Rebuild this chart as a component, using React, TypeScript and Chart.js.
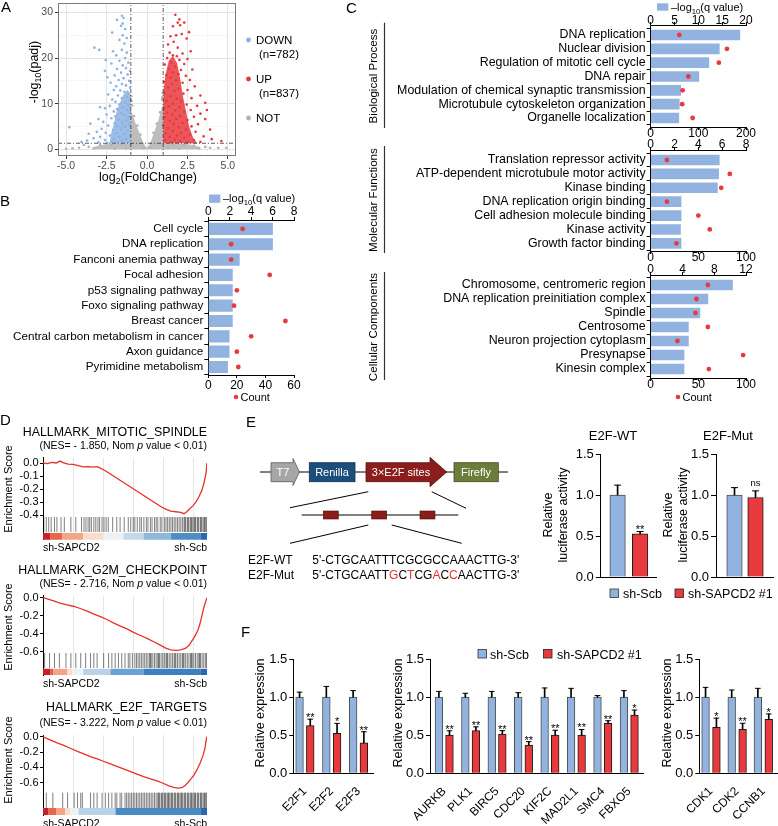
import React, { useEffect, useRef } from 'react';
import { Chart, registerables } from 'chart.js';

Chart.register(...registerables);

const FONT = '"Liberation Sans", Arial, Helvetica, sans-serif';
Chart.defaults.font.family = FONT;
Chart.defaults.color = '#000';

// ================= DATA =================
// ---- A: volcano plot (log2FC, -log10 padj) ----
const volcanoDown = [
  -1.55, 29.3, -1.45, 28.8, -1.85, 28.4, -1.5, 27.6, -1.6, 27.1, -2.15, 25.6, -1.35, 26.4, -1.5, 25.0, -1.25, 24.4,
  -1.7, 24.0, -1.4, 23.2, -3.25, 22.3, -2.95, 21.8, -2.1, 21.5, -1.55, 21.8, -1.25, 21.2, -1.9, 20.6, -2.55, 19.6,
  -1.35, 20.0, -1.7, 19.4, -2.2, 18.8, -1.15, 19.0, -1.5, 18.4, -2.6, 17.2, -1.85, 17.6, -1.3, 17.8, -1.05, 17.2,
  -1.6, 16.8, -2.0, 16.2, -1.2, 16.4, -2.45, 15.8, -1.45, 15.6, -1.75, 15.2, -1.1, 15.0, -2.25, 14.6, -1.55, 14.3,
  -1.3, 14.0, -1.9, 13.8, -1.05, 13.5, -2.05, 13.0, -1.65, 12.9, -1.4, 12.6, -1.15, 12.2, -2.4, 12.0, -1.8, 11.8,
  -1.25, 11.5, -1.55, 11.2, -2.15, 10.9, -1.05, 10.8, -1.95, 10.4, -1.35, 10.2, -2.6, 9.0, -2.9, 9.2, -1.7, 9.8,
  -1.15, 9.6, -2.3, 9.5, -1.5, 9.2, -1.85, 8.8, -1.25, 8.6, -2.05, 8.3, -1.05, 8.2, -1.6, 7.9, -2.5, 7.6, -1.4, 7.5,
  -1.95, 7.2, -1.15, 7.0, -3.0, 6.6, -2.2, 6.8, -1.75, 6.5, -1.3, 6.3, -2.7, 6.0, -1.55, 5.9, -3.5, 5.6, -2.0, 5.7,
  -1.1, 5.5, -2.4, 5.2, -1.85, 5.0, -1.35, 4.9, -4.8, 4.8, -2.8, 4.5, -1.6, 4.4, -2.1, 4.2, -1.2, 4.1, -3.1, 3.8,
  -2.55, 3.6, -3.6, 3.4, -1.9, 3.5, -1.4, 3.3, -2.3, 3.0, -1.05, 3.0, -2.9, 2.7, -1.7, 2.7, -3.3, 2.4, -2.05, 2.3,
  -1.3, 2.2, -2.6, 2.0, -3.7, 1.9, -1.55, 1.9, -4.05, 1.6, -2.2, 1.7, -1.15, 1.6, -3.0, 1.5, -1.85, 1.45, -2.45, 1.4,
];
const volcanoUp = [
  1.75, 29.5, 2.0, 28.5, 1.9, 27.8, 2.3, 27.8, 2.05, 27.2, 1.6, 27.0, 2.6, 25.7, 1.8, 25.0, 2.15, 25.3, 1.45, 24.8,
  2.45, 24.3, 1.65, 23.6, 1.3, 23.0, 1.9, 22.3, 2.7, 21.5, 1.4, 21.2, 2.2, 21.0, 1.6, 20.6, 1.85, 20.4, 2.5, 19.8,
  1.25, 20.0, 2.0, 19.6, 1.5, 19.0, 2.3, 18.7, 1.1, 18.6, 1.75, 18.2, 2.8, 17.5, 1.35, 17.6, 2.1, 17.4, 1.6, 16.9,
  1.95, 16.5, 1.2, 16.2, 2.4, 16.1, 1.45, 15.7, 2.65, 15.2, 1.8, 15.1, 1.05, 14.8, 2.2, 14.6, 1.55, 14.3, 2.95, 13.8,
  1.3, 13.6, 1.95, 13.3, 2.5, 13.0, 1.7, 12.8, 1.1, 12.3, 2.25, 12.2, 3.3, 11.8, 1.45, 11.6, 2.75, 11.2, 1.85, 11.1,
  1.2, 10.7, 2.1, 10.6, 3.6, 10.2, 1.6, 10.0, 2.45, 9.8, 3.1, 9.5, 1.35, 9.4, 2.0, 9.2, 1.05, 9.0, 3.7, 8.6, 2.7, 8.6,
  1.75, 8.5, 2.3, 8.2, 1.25, 8.0, 3.3, 7.8, 1.55, 7.6, 2.05, 7.3, 2.9, 7.1, 1.1, 7.0, 3.6, 6.6, 1.8, 6.6, 2.5, 6.4,
  1.4, 6.2, 2.2, 5.8, 3.15, 5.5, 1.65, 5.5, 1.0, 5.3, 2.75, 5.0, 1.95, 4.8, 1.3, 4.6, 3.9, 4.3, 2.4, 4.3, 1.6, 4.0,
  3.0, 3.8, 2.1, 3.6, 1.15, 3.5, 2.65, 3.2, 1.85, 3.0, 3.5, 2.8, 1.4, 2.7, 2.3, 2.5, 4.0, 2.2, 1.7, 2.1, 2.9, 2.0,
  1.1, 1.9, 2.05, 1.8, 3.3, 1.6, 4.6, 1.8, 1.5, 1.5, 2.5, 1.5,
];
const volcanoNot = [
  -0.95, 10.6, -0.98, 11.6, -0.92, 9.6, 0.96, 11.4, 0.98, 12.3, 0.93, 10.9, -0.8, 7.3, -0.6, 5.2, -0.4, 3.2, 0.4, 3.6,
  0.6, 5.6, 0.8, 8.1, -3.6, 0.5, -4.2, 0.3, -4.6, 0.2, -3.9, 0.9, -2.9, 0.9, -2.2, 1.0, -1.6, 1.1, 1.6, 1.1, 2.3, 1.0,
  2.9, 0.8, 3.6, 0.5, 3.9, 0.3, 4.4, 0.3, 4.9, 0.3, -5.0, 0.1, -3.3, 0.2, 3.2, 0.2, 2.0, 0.1, -2.0, 0.1, -1.3, 0.2,
  1.3, 0.3, -0.2, 0.2, 0.2, 0.3,
];
// outlines of the densely packed point clouds
const notCloud = [-3.3, 0, -3.3, 0.5, -2.6, 1.1, -1.0, 1.3, -1.0, 8.5, -0.85, 7.2, -0.7, 5.6, -0.5, 3.8, -0.3, 2.0, -0.15, 0.9,
  0, 0.35, 0.15, 1.0, 0.3, 2.3, 0.5, 4.3, 0.7, 6.3, 0.85, 8.2, 1.0, 10.2, 1.0, 1.3, 2.6, 1.1, 3.3, 0.5, 3.3, 0];
const downCloud = [-1.0, 1.3, -2.3, 1.3, -2.25, 3.0, -2.05, 5.5, -1.9, 8.0, -1.7, 10.0, -1.45, 12.0, -1.2, 13.0, -1.0, 12.0];
const upCloud = [1.0, 1.3, 1.0, 12.5, 1.15, 16.5, 1.35, 19.5, 1.6, 20.5, 1.85, 19.0, 2.05, 15.5, 2.2, 12.0, 2.4, 8.5,
  2.6, 5.0, 2.85, 2.5, 3.1, 1.3];
const fcCut = 1;
const padjCut = 1.3;
const volcanoXTicks = [-5, -2.5, 0, 2.5, 5];
const volcanoXGrid = [-5, -3.75, -2.5, -1.25, 0, 1.25, 2.5, 3.75, 5];
const volcanoYTicks = [0, 10, 20, 30];
const volcanoYGrid = [0, 5, 10, 15, 20, 25, 30];

// ---- B: KEGG ----
const keggTerms = ['Cell cycle', 'DNA replication', 'Fanconi anemia pathway', 'Focal adhesion', 'p53 signaling pathway',
  'Foxo signaling pathway', 'Breast cancer', 'Central carbon metabolism in cancer', 'Axon guidance', 'Pyrimidine metabolism'];
const keggQ = [6.0, 6.0, 2.9, 2.25, 2.25, 2.25, 2.25, 1.95, 1.95, 1.8];
const keggCount = [24, 16, 16, 43, 20, 18, 54, 30, 20, 21];

// ---- C: GO ----
const bpTerms = ['DNA replication', 'Nuclear division', 'Regulation of mitotic cell cycle', 'DNA repair',
  'Modulation of chemical synaptic transmission', 'Microtubule cytoskeleton organization', 'Organelle localization'];
const bpQ = [18.7, 14.4, 12.2, 10.1, 6.3, 6.0, 5.9];
const bpCount = [60, 160, 143, 79, 67, 66, 88];
const mfTerms = ['Translation repressor activity', 'ATP-dependent microtubule motor activity', 'Kinase binding',
  'DNA replication origin binding', 'Cell adhesion molecule binding', 'Kinase activity', 'Growth factor binding'];
const mfQ = [5.76, 5.7, 5.6, 2.55, 2.55, 2.5, 2.55];
const mfCount = [17, 83, 74, 17, 50, 62, 27];
const ccTerms = ['Chromosome, centromeric region', 'DNA replication preinitiation complex', 'Spindle', 'Centrosome',
  'Neuron projection cytoplasm', 'Presynapse', 'Kinesin complex'];
const ccQ = [10.3, 7.2, 6.2, 4.75, 4.75, 4.2, 4.2];
const ccCount = [60, 48, 47, 60, 28, 97, 61];

// ---- D: GSEA (rank fraction, running enrichment score) ----
const gseaGridX = [0.184, 0.368, 0.552, 0.736, 0.92];
const spindleRank = [0, 0.025, 0.055, 0.08, 0.104, 0.123, 0.153, 0.184, 0.215, 0.245, 0.276, 0.307, 0.331, 0.35, 0.38,
  0.411, 0.442, 0.472, 0.503, 0.534, 0.564, 0.595, 0.626, 0.656, 0.687, 0.718, 0.748, 0.779, 0.81, 0.84, 0.859, 0.877,
  0.896, 0.914, 0.933, 0.951, 0.969, 0.982, 0.994, 1];
const spindleES = [0, -0.005, 0.004, 0.0, 0.015, 0.003, -0.008, -0.01, -0.02, -0.03, -0.028, -0.032, -0.028, -0.04,
  -0.06, -0.085, -0.11, -0.135, -0.16, -0.185, -0.21, -0.235, -0.26, -0.285, -0.31, -0.335, -0.355, -0.37, -0.375,
  -0.38, -0.39, -0.375, -0.35, -0.33, -0.3, -0.26, -0.21, -0.15, -0.08, 0];
const spindleHits = [0.005, 0.02, 0.035, 0.05, 0.07, 0.085, 0.11, 0.13, 0.17, 0.2, 0.235, 0.25, 0.262, 0.275, 0.285,
  0.295, 0.31, 0.322, 0.335, 0.345, 0.36, 0.372, 0.385, 0.398, 0.425, 0.45, 0.47, 0.495, 0.52, 0.535, 0.55, 0.56,
  0.575, 0.59, 0.6, 0.615, 0.63, 0.64, 0.655, 0.665, 0.68, 0.69, 0.7, 0.715, 0.725, 0.74, 0.75, 0.76, 0.77, 0.78,
  0.79, 0.8, 0.81, 0.82, 0.83, 0.84, 0.85, 0.86, 0.865, 0.87, 0.88, 0.885, 0.89, 0.9, 0.905, 0.91, 0.92, 0.925, 0.93,
  0.94, 0.945, 0.95, 0.96, 0.965, 0.97, 0.98, 0.985, 0.99, 0.997];
const spindleBandX = [0, 0.043, 0.117, 0.245, 0.368, 0.491, 0.613, 0.779, 0.963, 1];
const spindleBandC = ['#c8202a', '#e8654d', '#f4a487', '#f9dccb', '#eef2f7', '#c3d8eb', '#8db8dc', '#4e8dc5', '#2a69ad'];

const g2mRank = [0, 0.031, 0.074, 0.104, 0.147, 0.184, 0.227, 0.27, 0.307, 0.35, 0.393, 0.429, 0.472, 0.515, 0.552,
  0.595, 0.638, 0.675, 0.718, 0.748, 0.779, 0.81, 0.84, 0.871, 0.89, 0.908, 0.926, 0.945, 0.957, 0.969, 0.982, 0.994, 1];
const g2mES = [0, -0.015, -0.04, -0.06, -0.08, -0.095, -0.12, -0.15, -0.18, -0.21, -0.245, -0.28, -0.315, -0.35,
  -0.385, -0.42, -0.455, -0.49, -0.53, -0.56, -0.58, -0.585, -0.58, -0.56, -0.53, -0.48, -0.43, -0.36, -0.29, -0.2,
  -0.1, -0.03, 0];
const g2mHits = [0.01, 0.04, 0.07, 0.1, 0.14, 0.17, 0.2, 0.23, 0.26, 0.29, 0.31, 0.33, 0.37, 0.4, 0.42, 0.44, 0.46,
  0.48, 0.5, 0.52, 0.53, 0.545, 0.56, 0.57, 0.58, 0.59, 0.6, 0.61, 0.62, 0.63, 0.64, 0.65, 0.655, 0.66, 0.67, 0.68,
  0.69, 0.7, 0.705, 0.71, 0.72, 0.73, 0.74, 0.75, 0.755, 0.76, 0.77, 0.78, 0.79, 0.8, 0.805, 0.81, 0.82, 0.83, 0.84,
  0.85, 0.855, 0.86, 0.87, 0.88, 0.89, 0.9, 0.905, 0.91, 0.92, 0.93, 0.94, 0.95, 0.955, 0.96, 0.97, 0.98, 0.99, 0.997];
const g2mBandX = [0, 0.043, 0.061, 0.147, 0.178, 0.245, 0.411, 0.613, 0.963, 1];
const g2mBandC = ['#c8202a', '#e8654d', '#f4a487', '#f9dccb', '#eef2f7', '#b7d2e9', '#6aa3d3', '#3d80bf', '#2a69ad'];

const e2fRank = [0, 0.043, 0.086, 0.123, 0.166, 0.209, 0.245, 0.288, 0.331, 0.368, 0.411, 0.454, 0.491, 0.534, 0.577,
  0.613, 0.656, 0.699, 0.736, 0.767, 0.798, 0.822, 0.847, 0.865, 0.883, 0.902, 0.92, 0.939, 0.957, 0.975, 0.988, 0.994, 1];
const e2fES = [0, -0.04, -0.08, -0.11, -0.15, -0.19, -0.22, -0.26, -0.29, -0.32, -0.355, -0.39, -0.42, -0.455, -0.49,
  -0.52, -0.55, -0.58, -0.61, -0.64, -0.66, -0.67, -0.665, -0.64, -0.6, -0.55, -0.5, -0.43, -0.35, -0.25, -0.15, -0.05, 0];
const e2fHits = [0.02, 0.06, 0.12, 0.15, 0.19, 0.21, 0.23, 0.24, 0.29, 0.31, 0.33, 0.36, 0.38, 0.4, 0.42, 0.44, 0.45,
  0.47, 0.48, 0.5, 0.51, 0.52, 0.53, 0.54, 0.55, 0.56, 0.57, 0.58, 0.59, 0.6, 0.61, 0.62, 0.63, 0.64, 0.65, 0.66, 0.67,
  0.68, 0.69, 0.7, 0.705, 0.71, 0.72, 0.725, 0.73, 0.74, 0.745, 0.75, 0.76, 0.765, 0.77, 0.78, 0.785, 0.79, 0.8, 0.805,
  0.81, 0.82, 0.825, 0.83, 0.84, 0.845, 0.85, 0.86, 0.865, 0.87, 0.88, 0.885, 0.89, 0.9, 0.905, 0.91, 0.92, 0.925,
  0.93, 0.94, 0.945, 0.95, 0.96, 0.965, 0.97, 0.98, 0.985, 0.99, 0.997];
const e2fBandX = [0, 0.031, 0.083, 0.135, 0.166, 0.217, 0.442, 0.963, 1];
const e2fBandC = ['#c8202a', '#e8654d', '#f4a487', '#f9dccb', '#eef2f7', '#b7d2e9', '#4a8ac4', '#2a69ad'];

// ---- E: luciferase ----
const lucWtMean = [1.0, 0.525];
const lucWtErr = [0.12, 0.03];
const lucWtSig = ['', '**'];
const lucMutMean = [1.0, 0.97];
const lucMutErr = [0.09, 0.08];
const lucMutSig = ['', 'ns'];

// ---- F: qPCR ----
const expYTicks = [0, 0.5, 1.0, 1.5];
const f1Genes = ['E2F1', 'E2F2', 'E2F3'];
const f1Scb = [1, 1, 1];
const f1ScbErr = [0.065, 0.14, 0.085];
const f1Sh = [0.625, 0.525, 0.4];
const f1ShErr = [0.085, 0.13, 0.145];
const f1Sig = ['**', '*', '**'];
const f2Genes = ['AURKB', 'PLK1', 'BIRC5', 'CDC20', 'KIF2C', 'MAD2L1', 'SMC4', 'FBXO5'];
const f2Scb = [1, 1, 1, 1, 1, 1, 1, 1];
const f2ScbErr = [0.075, 0.05, 0.075, 0.058, 0.12, 0.115, 0.02, 0.085];
const f2Sh = [0.5, 0.56, 0.515, 0.37, 0.5, 0.5, 0.655, 0.765];
const f2ShErr = [0.058, 0.05, 0.045, 0.045, 0.065, 0.075, 0.035, 0.065];
const f2Sig = ['**', '**', '**', '**', '**', '**', '**', '*'];
const f3Genes = ['CDK1', 'CDK2', 'CCNB1'];
const f3Scb = [1, 1, 1];
const f3ScbErr = [0.128, 0.093, 0.115];
const f3Sh = [0.604, 0.577, 0.709];
const f3ShErr = [0.12, 0.08, 0.07];
const f3Sig = ['*', '**', '*'];

// ================= COLORS =================
const BLUE = '#92b3df';
const RED = '#e8393c';

// ================= HELPERS =================
const pairs = (a: number[]) => {
  const out: { x: number; y: number }[] = [];
  for (let i = 0; i < a.length; i += 2) out.push({ x: a[i], y: a[i + 1] });
  return out;
};
const zip = (xs: number[], ys: number[]) => xs.map((x, i) => ({ x, y: ys[i] }));

const fit = (size: number) => (s: any) => {
  if (s.isHorizontal()) s.height = size;
  else s.width = size;
  s.paddingTop = 0;
  s.paddingBottom = 0;
  s.paddingLeft = 0;
  s.paddingRight = 0;
};

const base = (padding: any, extraPlugins: any = {}) => ({
  responsive: false,
  animation: false,
  devicePixelRatio: 1,
  events: [],
  layout: { autoPadding: false, padding },
  plugins: { legend: { display: false }, tooltip: { enabled: false }, title: { display: false }, ...extraPlugins },
});

const framePlugin = {
  id: 'frame',
  afterDatasetsDraw(chart: any, _a: any, opts: any) {
    if (!opts || !opts.color) return;
    const { ctx, chartArea: a } = chart;
    ctx.save();
    ctx.strokeStyle = opts.color;
    ctx.lineWidth = opts.width || 1;
    ctx.strokeRect(a.left + 0.5, a.top + 0.5, a.right - a.left - 1, a.bottom - a.top - 1);
    ctx.restore();
  },
};

const starPlugin = {
  id: 'stars',
  afterDatasetsDraw(chart: any, _a: any, opts: any) {
    const items = (opts && opts.items) || [];
    const { ctx } = chart;
    const xs = chart.scales.x;
    const ys = chart.scales.y;
    ctx.save();
    ctx.fillStyle = '#000';
    ctx.textAlign = 'center';
    ctx.textBaseline = 'alphabetic';
    items.forEach((it: any) => {
      if (!it.text) return;
      const isNs = it.text === 'ns';
      ctx.font = `${isNs ? 9.5 : 11}px ${FONT}`;
      const px = xs.getPixelForValue(it.x);
      const py = ys.getPixelForValue(it.y) + (isNs ? -5 : 2);
      ctx.fillText(it.text, px, py);
    });
    ctx.restore();
  },
};

function ChartBox({ x, y, w, h, cfg }: { x: number; y: number; w: number; h: number; cfg: () => any }) {
  const ref = useRef<HTMLCanvasElement | null>(null);
  useEffect(() => {
    const chart = new Chart(ref.current as HTMLCanvasElement, cfg());
    return () => chart.destroy();
  }, []);
  return (
    <canvas
      ref={ref}
      width={w}
      height={h}
      style={{ position: 'absolute', left: x, top: y, width: w, height: h, display: 'block' }}
    />
  );
}

// ================= CONFIGS =================
function volcanoConfig() {
  const isMx = (v: number) => volcanoXTicks.some((m) => Math.abs(m - v) < 1e-9);
  const isMy = (v: number) => volcanoYTicks.some((m) => Math.abs(m - v) < 1e-9);
  const xMin = -5.5, xMax = 5.5, yMin = -1.5, yMax = 32.1;
  const dash = { showLine: true, borderColor: '#333', borderWidth: 0.8, borderDash: [4, 2, 1, 2], pointRadius: 0 };
  const cloud = (a: number[], c: string) => ({
    data: pairs(a), showLine: true, fill: 'shape', backgroundColor: c, borderColor: 'rgba(0,0,0,0)',
    borderWidth: 0, pointRadius: 0,
  });
  const pts = (a: number[], c: string) => ({ data: pairs(a), pointRadius: 1.3, pointBackgroundColor: c, pointBorderWidth: 0 });
  return {
    type: 'scatter',
    plugins: [framePlugin],
    data: {
      datasets: [
        { ...dash, data: [{ x: xMin, y: padjCut }, { x: xMax, y: padjCut }] },
        { ...dash, data: [{ x: -fcCut, y: yMin }, { x: -fcCut, y: yMax }] },
        { ...dash, data: [{ x: fcCut, y: yMin }, { x: fcCut, y: yMax }] },
        pts(volcanoUp, '#e8383d'),
        pts(volcanoDown, '#8cb1e2'),
        pts(volcanoNot, '#b3b3b3'),
        cloud(upCloud, 'rgba(232,56,61,0.85)'),
        cloud(downCloud, 'rgba(140,177,226,0.85)'),
        cloud(notCloud, '#bdbdbd'),
      ],
    },
    options: {
      ...base({ left: 0, top: 3, right: 9, bottom: 0 }, { frame: { color: '#7a7a7a', width: 1 } }),
      scales: {
        x: {
          type: 'linear', min: xMin, max: xMax,
          afterBuildTicks: (s: any) => { s.ticks = volcanoXGrid.map((v) => ({ value: v })); },
          ticks: { callback: (v: number) => (isMx(v) ? v.toFixed(1) : ''), autoSkip: false, maxRotation: 0, minRotation: 0,
            padding: 1, color: '#4d4d4d', font: { size: 10.5 } },
          grid: {
            color: (c: any) => (c.tick && isMx(c.tick.value) ? '#e4e4e4' : '#f2f2f2'),
            lineWidth: (c: any) => (c.tick && isMx(c.tick.value) ? 1 : 0.6),
            tickColor: (c: any) => (c.tick && isMx(c.tick.value) ? '#333' : 'rgba(0,0,0,0)'),
            drawTicks: true, tickLength: 3,
          },
          border: { display: false },
          afterFit: fit(36),
        },
        y: {
          type: 'linear', min: yMin, max: yMax,
          afterBuildTicks: (s: any) => { s.ticks = volcanoYGrid.map((v) => ({ value: v })); },
          ticks: { callback: (v: number) => (isMy(v) ? String(v) : ''), autoSkip: false, padding: 2, color: '#4d4d4d',
            font: { size: 10.5 } },
          grid: {
            color: (c: any) => (c.tick && isMy(c.tick.value) ? '#e4e4e4' : '#f2f2f2'),
            lineWidth: (c: any) => (c.tick && isMy(c.tick.value) ? 1 : 0.6),
            tickColor: (c: any) => (c.tick && isMy(c.tick.value) ? '#333' : 'rgba(0,0,0,0)'),
            drawTicks: true, tickLength: 3,
          },
          border: { display: false },
          afterFit: fit(58),
        },
      },
    },
  };
}

function goConfig(p: any) {
  const axisCommon = (pos: string, max: number, step: number, h: number, pad: number) => ({
    type: 'linear', position: pos, min: 0, max,
    ticks: { stepSize: step, font: { size: p.tickSize }, padding: pad, autoSkip: false, maxRotation: 0, minRotation: 0, color: '#000' },
    grid: { drawOnChartArea: false, drawTicks: true, tickLength: 3, color: '#000' },
    border: { color: '#000', width: 1 },
    afterFit: fit(h),
  });
  return {
    type: 'bar',
    data: {
      datasets: [
        {
          type: 'scatter', data: p.count.map((c: number, i: number) => ({ x: c, y: i })), xAxisID: 'x2', yAxisID: 'y',
          pointRadius: 2.4, pointBackgroundColor: RED, pointBorderWidth: 0,
        },
        {
          type: 'bar', data: p.q.map((v: number, i: number) => ({ x: v, y: i })), xAxisID: 'x', yAxisID: 'y',
          backgroundColor: BLUE, borderWidth: 0, barThickness: p.barThick, grouped: false,
        },
      ],
    },
    options: {
      ...base({ left: 0, top: 0, right: p.padR, bottom: 0 }),
      indexAxis: 'y',
      scales: {
        x: axisCommon('top', p.qMax, p.qStep, p.topH, p.topPad),
        x2: axisCommon('bottom', p.cMax, p.cStep, p.botH, p.botPad),
        y: {
          type: 'linear', reverse: true, min: p.idxMin, max: p.idxMax, offset: false,
          afterBuildTicks: (s: any) => { s.ticks = p.terms.map((_: string, i: number) => ({ value: i })); },
          ticks: { callback: (_v: number, i: number) => p.terms[i], font: { size: p.labelSize }, padding: 1, autoSkip: false, color: '#000' },
          grid: { drawOnChartArea: false, drawTicks: true, tickLength: 4, color: '#000' },
          border: { color: '#000', width: 1 },
          afterFit: fit(p.yW),
        },
      },
    },
  };
}

function gseaConfig(p: any) {
  return {
    type: 'scatter',
    data: {
      datasets: [
        { data: zip(p.rank, p.es), showLine: true, borderColor: '#e8302a', borderWidth: 1.3, pointRadius: 0, tension: 0 },
        {
          data: p.hits.map((x: number) => ({ x, y: p.hitY })), pointStyle: 'line', pointRotation: 90,
          pointRadius: p.hitR, pointBorderColor: 'rgba(0,0,0,0.5)', pointBorderWidth: 1, pointBackgroundColor: 'rgba(0,0,0,0)',
        },
        {
          data: p.bandX.map((x: number) => ({ x, y: p.bandY })), showLine: true, borderWidth: p.bandW,
          borderCapStyle: 'butt', pointRadius: 0, borderColor: p.bandC[0],
          segment: { borderColor: (c: any) => p.bandC[c.p0DataIndex] },
        },
      ],
    },
    options: {
      ...base({ left: 0, top: p.padTop, right: 8, bottom: p.padBottom }),
      scales: {
        x: {
          type: 'linear', min: 0, max: 1,
          afterBuildTicks: (s: any) => { s.ticks = gseaGridX.map((v) => ({ value: v })); },
          ticks: { display: false },
          grid: { color: '#e6e6e6', drawTicks: false, lineWidth: 1 },
          border: { display: false },
          afterFit: fit(0),
        },
        y: {
          type: 'linear', min: p.yMin, max: p.yMax,
          afterBuildTicks: (s: any) => { s.ticks = p.yTicks.map((v: number) => ({ value: v })); },
          ticks: { callback: (v: number) => (Math.abs(v) < 1e-9 ? 0 : v).toFixed(1), font: { size: 11 }, padding: 1.5, autoSkip: false, color: '#000' },
          grid: { drawOnChartArea: false, drawTicks: true, tickLength: 3, color: '#000' },
          border: { color: '#000', width: 1 },
          afterFit: fit(43),
        },
      },
    },
  };
}

function expConfig(p: any) {
  const xs = p.labels.map((_: string, i: number) => i + 1);
  const bx = xs.map((x: number) => x - p.off);
  const rx = xs.map((x: number) => x + p.off);
  const errData = [
    ...bx.map((x: number, i: number) => ({ x, y: [p.scb[i], p.scb[i] + p.scbErr[i]] })),
    ...rx.map((x: number, i: number) => ({ x, y: [p.sh[i], p.sh[i] + p.shErr[i]] })),
  ];
  const capData = [
    ...bx.map((x: number, i: number) => ({ x, y: p.scb[i] + p.scbErr[i] })),
    ...rx.map((x: number, i: number) => ({ x, y: p.sh[i] + p.shErr[i] })),
  ];
  return {
    type: 'scatter',
    plugins: [starPlugin],
    data: {
      datasets: [
        { type: 'bar', data: errData, backgroundColor: '#000', borderWidth: 0, barThickness: 1, grouped: false },
        { type: 'scatter', data: capData, pointStyle: 'line', pointRadius: p.cap, pointBorderColor: '#000', pointBorderWidth: 1 },
        {
          type: 'bar', data: bx.map((x: number, i: number) => ({ x, y: p.scb[i] })), backgroundColor: BLUE,
          borderColor: '#4d4d4d', borderWidth: 1, barThickness: p.thick, grouped: false,
        },
        {
          type: 'bar', data: rx.map((x: number, i: number) => ({ x, y: p.sh[i] })), backgroundColor: RED,
          borderColor: '#1a1a1a', borderWidth: 1, barThickness: p.thick, grouped: false,
        },
      ],
    },
    options: {
      ...base(p.pad, {
        stars: { items: rx.map((x: number, i: number) => ({ x, y: p.sh[i] + p.shErr[i], text: p.sig[i] })) },
      }),
      scales: {
        x: {
          type: 'linear', position: 'bottom', min: p.xMin, max: p.xMax, offset: false,
          afterBuildTicks: (s: any) => { s.ticks = xs.map((v: number) => ({ value: v })); },
          ticks: {
            display: p.showX, callback: (_v: number, i: number) => p.labels[i], autoSkip: false,
            minRotation: 45, maxRotation: 45, font: { size: 12 }, padding: 3, color: '#000',
          },
          grid: { display: false, offset: false },
          border: { color: '#000', width: 1 },
          afterFit: fit(p.xH),
        },
        y: {
          type: 'linear', position: 'left', min: 0, max: 1.5,
          afterBuildTicks: (s: any) => { s.ticks = expYTicks.map((v) => ({ value: v })); },
          ticks: { callback: (v: number) => Number(v).toFixed(1), font: { size: 13 }, padding: 2, autoSkip: false, color: '#000' },
          grid: { drawOnChartArea: false, drawTicks: true, tickLength: p.tickLen, color: '#000' },
          border: { color: '#000', width: 1 },
          afterFit: fit(p.yW),
        },
      },
    },
  };
}

// ================= SVG TEXT =================
function Tx({ x, y, s = 12, a = 'start', r = false, fill = '#000', children }: any) {
  return (
    <text
      x={x}
      y={y + 0.36 * s}
      fontSize={s}
      textAnchor={a}
      fill={fill}
      fontFamily={FONT}
      transform={r ? `rotate(-90 ${x} ${y})` : undefined}
    >
      {children}
    </text>
  );
}
const Sub = ({ s, children }: any) => (
  <>
    <tspan fontSize={s * 0.7} dy={s * 0.25}>{children}</tspan>
    <tspan dy={-s * 0.25}>{'\u200b'}</tspan>
  </>
);

function Overlay() {
  const mutSeq: [string, boolean][] = [
    ["5'-CTGCAATT", false], ['G', true], ['C', false], ['T', true], ['CG', false], ['A', true], ['C', false],
    ['C', true], ["AACTTG-3'", false],
  ];
  return (
    <svg width={778} height={826} style={{ position: 'absolute', left: 0, top: 0 }}>
      {/* panel letters */}
      <Tx x={1} y={7} s={15}>A</Tx>
      <Tx x={0} y={201} s={15}>B</Tx>
      <Tx x={346} y={8} s={15}>C</Tx>
      <Tx x={0} y={420} s={15}>D</Tx>
      <Tx x={246} y={422} s={15}>E</Tx>
      <Tx x={241} y={632} s={15}>F</Tx>

      {/* A titles + legend */}
      <Tx x={33} y={72} s={12.5} a="middle" r>
        -log<Sub s={12.5}>10</Sub>(padj)
      </Tx>
      <Tx x={148} y={176} s={12.5} a="middle">
        log<Sub s={12.5}>2</Sub>(FoldChange)
      </Tx>
      <circle cx={248.5} cy={40} r={2.4} fill="#8cb1e2" />
      <Tx x={256} y={40} s={11.5}>DOWN</Tx>
      <Tx x={259} y={54} s={11.5}>(n=782)</Tx>
      <circle cx={248.5} cy={79} r={2.4} fill="#e8383d" />
      <Tx x={256} y={79} s={11.5}>UP</Tx>
      <Tx x={259} y={93} s={11.5}>(n=837)</Tx>
      <circle cx={248.5} cy={118} r={2.4} fill="#b3b3b3" />
      <Tx x={256} y={118} s={11.5}>NOT</Tx>

      {/* B legend */}
      <rect x={209} y={194.5} width={11.3} height={8.3} fill={BLUE} />
      <Tx x={223} y={198.5} s={11}>
        –log<Sub s={11}>10</Sub>(q value)
      </Tx>
      <circle cx={236} cy={397} r={2.3} fill={RED} />
      <Tx x={240.5} y={397} s={11}>Count</Tx>

      {/* C legend + groups */}
      <rect x={657} y={3.3} width={11.3} height={7.4} fill={BLUE} />
      <Tx x={671} y={7} s={11}>
        –log<Sub s={11}>10</Sub>(q value)
      </Tx>
      <circle cx={678} cy={397} r={2.3} fill={RED} />
      <Tx x={682.5} y={397} s={11}>Count</Tx>
      <Tx x={373} y={76} s={11.6} a="middle" r>Biological Process</Tx>
      <Tx x={373} y={200} s={11.6} a="middle" r>Molecular Functions</Tx>
      <Tx x={373} y={327} s={11.6} a="middle" r>Cellular Components</Tx>
      <line x1={384.5} y1={22.7} x2={384.5} y2={128} stroke="#333" strokeWidth={1.2} />
      <line x1={384.5} y1={146} x2={384.5} y2={253} stroke="#333" strokeWidth={1.2} />
      <line x1={384.5} y1={272} x2={384.5} y2={380} stroke="#333" strokeWidth={1.2} />

      {/* D texts */}
      <Tx x={207} y={432} s={12.4} a="end">HALLMARK_MITOTIC_SPINDLE</Tx>
      <Tx x={207} y={445} s={10.5} a="end">
        (NES= - 1.850, Nom <tspan fontStyle="italic">p</tspan> value {'<'} 0.01)
      </Tx>
      <Tx x={8} y={489} s={11} a="middle" r>Enrichment Score</Tx>
      <Tx x={43} y={547} s={10.5}>sh-SAPCD2</Tx>
      <Tx x={207} y={547} s={10.5} a="end">sh-Scb</Tx>

      <Tx x={207} y={570} s={12.4} a="end">HALLMARK_G2M_CHECKPOINT</Tx>
      <Tx x={207} y={583} s={10.5} a="end">
        (NES= - 2.716, Nom <tspan fontStyle="italic">p</tspan> value {'<'} 0.01)
      </Tx>
      <Tx x={8} y={627} s={11} a="middle" r>Enrichment Score</Tx>
      <Tx x={43} y={683} s={10.5}>sh-SAPCD2</Tx>
      <Tx x={207} y={683} s={10.5} a="end">sh-Scb</Tx>

      <Tx x={207} y={707} s={12.4} a="end">HALLMARK_E2F_TARGETS</Tx>
      <Tx x={207} y={722} s={10.5} a="end">
        (NES= - 3.222, Nom <tspan fontStyle="italic">p</tspan> value {'<'} 0.01)
      </Tx>
      <Tx x={8} y={760} s={11} a="middle" r>Enrichment Score</Tx>
      <Tx x={43} y={823} s={10.5}>sh-SAPCD2</Tx>
      <Tx x={207} y={823} s={10.5} a="end">sh-Scb</Tx>

      {/* E diagram */}
      <line x1={260} y1={472} x2={508} y2={472} stroke="#000" strokeWidth={1} />
      <polygon points="271,462.7 293,462.7 293,458.5 299.5,472 293,485.5 293,481.7 271,481.7" fill="#a6a6a6" stroke="#5a5a5a" strokeWidth={0.8} />
      <rect x={309.3} y={462.7} width={45.7} height={19} fill="#1d4e7a" stroke="#0f2f4d" strokeWidth={0.8} />
      <polygon points="366,462.7 430,462.7 430,457.3 446.7,472 430,486.7 430,481.7 366,481.7" fill="#8b1d1d" stroke="#5a0f0f" strokeWidth={0.8} />
      <rect x={454} y={462.7} width={44.3} height={19} fill="#6b7d3b" stroke="#3f4a22" strokeWidth={0.8} />
      <Tx x={283} y={472} s={11} a="middle" fill="#fff">T7</Tx>
      <Tx x={332} y={472} s={11} a="middle" fill="#fff">Renilla</Tx>
      <Tx x={401} y={472} s={11} a="middle" fill="#fff">3×E2F sites</Tx>
      <Tx x={476} y={472} s={11} a="middle" fill="#fff">Firefly</Tx>
      <line x1={368.3} y1={491.7} x2={290} y2={507.7} stroke="#000" strokeWidth={1} />
      <line x1={431.7} y1={491.7} x2={466} y2={508.3} stroke="#000" strokeWidth={1} />
      <line x1={301.7} y1={515} x2={458.3} y2={515} stroke="#000" strokeWidth={1} />
      <rect x={323.3} y={511} width={15} height={8} fill="#8b1d1d" stroke="#4a0c0c" strokeWidth={0.6} />
      <rect x={371.7} y={511} width={15} height={8} fill="#8b1d1d" stroke="#4a0c0c" strokeWidth={0.6} />
      <rect x={420} y={511} width={15} height={8} fill="#8b1d1d" stroke="#4a0c0c" strokeWidth={0.6} />
      <line x1={368.3} y1={525} x2={290} y2={543.3} stroke="#000" strokeWidth={1} />
      <line x1={391.7} y1={525} x2={461.7} y2={543.3} stroke="#000" strokeWidth={1} />
      <Tx x={248} y={560} s={12}>E2F-WT</Tx>
      <Tx x={312.3} y={560} s={12}>5'-CTGCAATTTCGCGCCAAACTTG-3'</Tx>
      <Tx x={248} y={575} s={12}>E2F-Mut</Tx>
      <Tx x={312.3} y={575} s={12}>
        {mutSeq.map(([t, red], i) => (
          <tspan key={i} fill={red ? '#e8302a' : '#000'}>{t}</tspan>
        ))}
      </Tx>

      {/* E charts text */}
      <Tx x={613} y={435} s={13} a="middle">E2F-WT</Tx>
      <Tx x={728} y={435} s={13} a="middle">E2F-Mut</Tx>
      <Tx x={547} y={515} s={12.5} a="middle" r>Relative</Tx>
      <Tx x={562} y={515} s={12.5} a="middle" r>luciferase activity</Tx>
      <Tx x={667} y={515} s={12.5} a="middle" r>Relative</Tx>
      <Tx x={682} y={515} s={12.5} a="middle" r>luciferase activity</Tx>
      <rect x={610} y={589} width={8.5} height={8.5} fill={BLUE} stroke="#333" strokeWidth={0.8} />
      <Tx x={623} y={593} s={12.5}>sh-Scb</Tx>
      <rect x={675} y={589} width={8.5} height={8.5} fill={RED} stroke="#222" strokeWidth={0.8} />
      <Tx x={688} y={593} s={12.5}>sh-SAPCD2 #1</Tx>

      {/* F texts */}
      <rect x={478} y={649.5} width={8.5} height={8.5} fill={BLUE} stroke="#333" strokeWidth={0.8} />
      <Tx x={490} y={654} s={12.5}>sh-Scb</Tx>
      <rect x={543.5} y={649.5} width={8.5} height={8.5} fill={RED} stroke="#222" strokeWidth={0.8} />
      <Tx x={557} y={654} s={12.5}>sh-SAPCD2 #1</Tx>
      <Tx x={259} y={713} s={12.5} a="middle" r>Relative expression</Tx>
      <Tx x={397.5} y={713} s={12.5} a="middle" r>Relative expression</Tx>
      <Tx x={666} y={713} s={12.5} a="middle" r>Relative expression</Tx>
    </svg>
  );
}

// ================= APP =================
export default function App() {
  return (
    <div style={{ position: 'absolute', left: 0, top: 0, width: 778, height: 826, background: '#fff', overflow: 'hidden' }}>
      <ChartBox x={0} y={0} w={245} h={192} cfg={volcanoConfig} />
      <ChartBox x={0} y={195} w={305} h={215} cfg={() => goConfig({
        terms: keggTerms, q: keggQ, count: keggCount, qMax: 8, qStep: 2, cMax: 60, cStep: 20,
        idxMin: -0.58, idxMax: 9.52, yW: 208.3, topH: 25, botH: 35, padR: 11, labelSize: 11.7, tickSize: 12, barThick: 11.5,
        topPad: -2.2, botPad: 0,
      })} />
      <ChartBox x={390} y={5} w={370} h={142} cfg={() => goConfig({
        terms: bpTerms, q: bpQ, count: bpCount, qMax: 20, qStep: 5, cMax: 200, cStep: 100,
        idxMin: -0.72, idxMax: 6.65, yW: 260.7, topH: 20, botH: 20, padR: 14, labelSize: 12.4, tickSize: 12, barThick: 10,
        topPad: -5.7, botPad: -3.2,
      })} />
      <ChartBox x={390} y={130} w={370} h={141} cfg={() => goConfig({
        terms: mfTerms, q: mfQ, count: mfCount, qMax: 8, qStep: 2, cMax: 100, cStep: 50,
        idxMin: -0.72, idxMax: 6.55, yW: 260.7, topH: 20, botH: 20, padR: 14, labelSize: 12.4, tickSize: 12, barThick: 10,
        topPad: -5.2, botPad: -3.2,
      })} />
      <ChartBox x={390} y={255} w={370} h={143} cfg={() => goConfig({
        terms: ccTerms, q: ccQ, count: ccCount, qMax: 12, qStep: 4, cMax: 100, cStep: 50,
        idxMin: -0.714, idxMax: 6.64, yW: 260.7, topH: 20, botH: 20, padR: 14, labelSize: 12.4, tickSize: 12, barThick: 10,
        topPad: -5.2, botPad: -3.2,
      })} />
      <ChartBox x={0} y={448} w={215} h={100} cfg={() => gseaConfig({
        rank: spindleRank, es: spindleES, hits: spindleHits, hitY: -0.473, hitR: 7.5, bandX: spindleBandX, bandC: spindleBandC,
        bandY: -0.565, bandW: 7, yMin: -0.59, yMax: 0.04, yTicks: [0, -0.1, -0.2, -0.3, -0.4], padTop: 9.8, padBottom: 8.3,
      })} />
      <ChartBox x={0} y={586} w={215} h={97} cfg={() => gseaConfig({
        rank: g2mRank, es: g2mES, hits: g2mHits, hitY: -0.698, hitR: 7.5, bandX: g2mBandX, bandC: g2mBandC,
        bandY: -0.826, bandW: 6.5, yMin: -0.859, yMax: 0.02, yTicks: [0, -0.2, -0.4, -0.6], padTop: 9.9, padBottom: 8,
      })} />
      <ChartBox x={0} y={725} w={215} h={98} cfg={() => gseaConfig({
        rank: e2fRank, es: e2fES, hits: e2fHits, hitY: -0.83, hitR: 7.7, bandX: e2fBandX, bandC: e2fBandC,
        bandY: -0.975, bandW: 7, yMin: -1.021, yMax: 0.02, yTicks: [0, -0.2, -0.4, -0.6], padTop: 10.2, padBottom: 8,
      })} />
      <ChartBox x={560} y={440} w={110} h={145} cfg={() => expConfig({
        labels: ['E2F-WT'], scb: [lucWtMean[0]], scbErr: [lucWtErr[0]], sh: [lucWtMean[1]], shErr: [lucWtErr[1]],
        sig: [lucWtSig[1]], off: 0.5, xMin: -0.247, xMax: 2.229, thick: 15.5, cap: 3.5, yW: 40.8, xH: 8,
        pad: { left: 0, top: 14, right: 13.5, bottom: 0 }, showX: false, tickLen: 5,
      })} />
      <ChartBox x={676} y={440} w={102} h={145} cfg={() => expConfig({
        labels: ['E2F-Mut'], scb: [lucMutMean[0]], scbErr: [lucMutErr[0]], sh: [lucMutMean[1]], shErr: [lucMutErr[1]],
        sig: [lucMutSig[1]], off: 0.5, xMin: -0.381, xMax: 2.333, thick: 15.5, cap: 3.5, yW: 40, xH: 8,
        pad: { left: 0, top: 14, right: 5, bottom: 0 }, showX: false, tickLen: 5,
      })} />
      <ChartBox x={240} y={645} w={140} h={181} cfg={() => expConfig({
        labels: f1Genes, scb: f1Scb, scbErr: f1ScbErr, sh: f1Sh, shErr: f1ShErr, sig: f1Sig, off: 0.2,
        xMin: 0.567, xMax: 3.552, thick: 7.7, cap: 2.8, yW: 53.3, xH: 52.7,
        pad: { left: 0, top: 14, right: 6.7, bottom: 0 }, showX: true, tickLen: 4,
      })} />
      <ChartBox x={380} y={645} w={270} h={181} cfg={() => expConfig({
        labels: f2Genes, scb: f2Scb, scbErr: f2ScbErr, sh: f2Sh, shErr: f2ShErr, sig: f2Sig, off: 0.2,
        xMin: 0.463, xMax: 8.533, thick: 7.7, cap: 2.8, yW: 50, xH: 52.7,
        pad: { left: 0, top: 14, right: 6.7, bottom: 0 }, showX: true, tickLen: 4,
      })} />
      <ChartBox x={650} y={645} w={128} h={181} cfg={() => expConfig({
        labels: f3Genes, scb: f3Scb, scbErr: f3ScbErr, sh: f3Sh, shErr: f3ShErr, sig: f3Sig, off: 0.208,
        xMin: 0.553, xMax: 3.523, thick: 7.7, cap: 2.8, yW: 49.3, xH: 52.7,
        pad: { left: 0, top: 14, right: 1, bottom: 0 }, showX: true, tickLen: 4,
      })} />
      <Overlay />
    </div>
  );
}
